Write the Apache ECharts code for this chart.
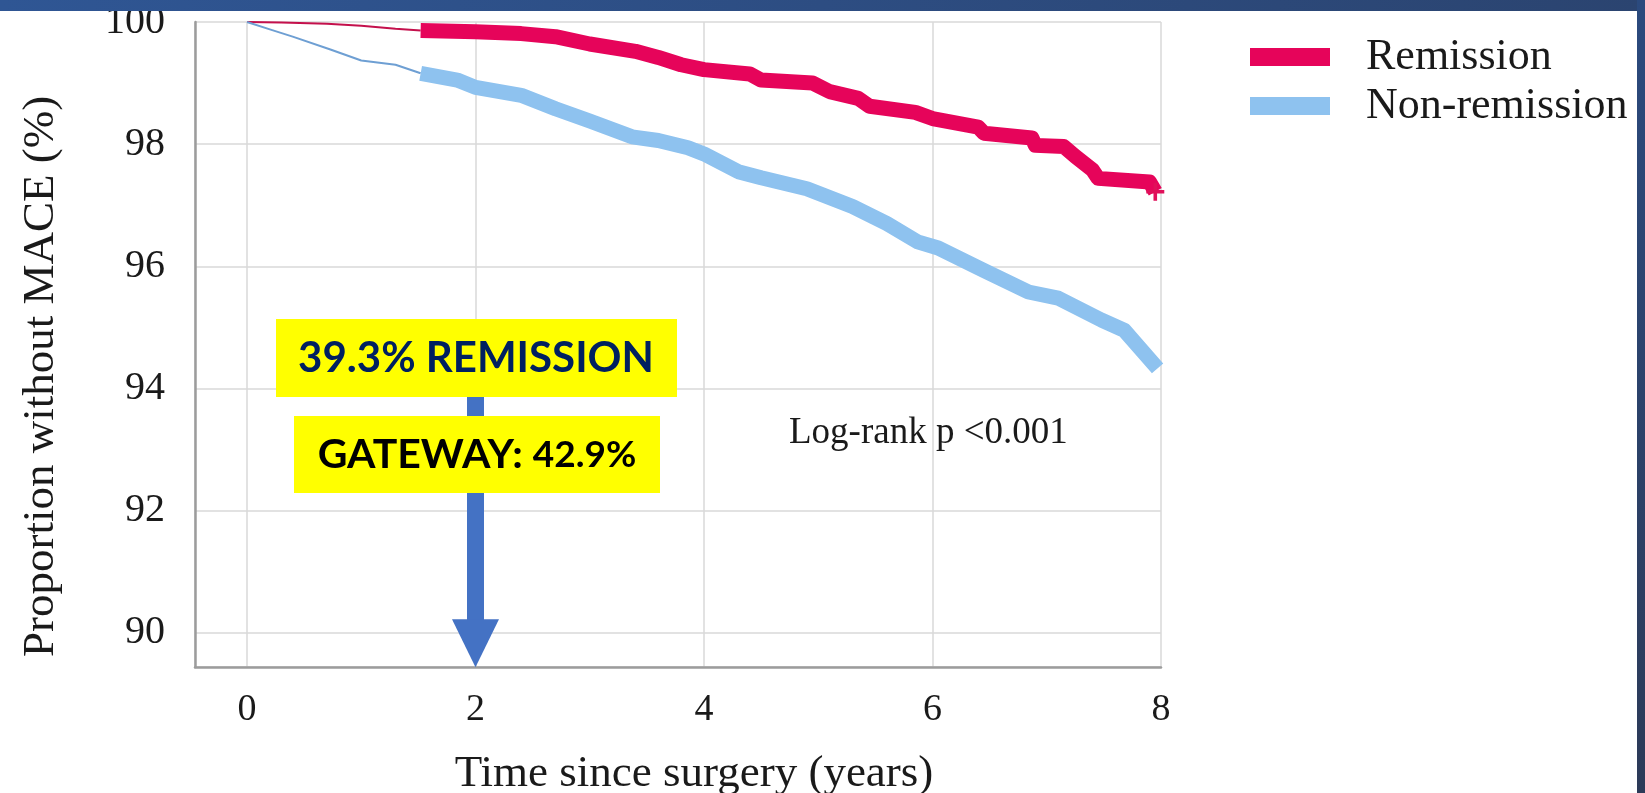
<!DOCTYPE html>
<html>
<head>
<meta charset="utf-8">
<script src="https://cdn.jsdelivr.net/npm/echarts@6/dist/echarts.min.js"></script>
<style>
  html, body { margin: 0; padding: 0; background: #fff; }
  #chart { width: 1645px; height: 793px; }
</style>
</head>
<body>
<div id="chart"></div>
<script>
// KM curves: [years since surgery, % without MACE]
const remission = [
  [0, 100], [0.3, 99.99], [0.7, 99.97], [1.0, 99.94], [1.3, 99.89], [1.52, 99.86],
  [2.0, 99.84], [2.4, 99.81], [2.7, 99.76], [3.0, 99.64], [3.4, 99.52], [3.6, 99.42],
  [3.8, 99.3], [4.0, 99.22], [4.4, 99.15], [4.5, 99.05], [4.95, 99.0], [5.1, 98.86],
  [5.35, 98.75], [5.45, 98.62], [5.85, 98.52], [6.0, 98.42], [6.4, 98.28], [6.45, 98.18],
  [6.87, 98.1], [6.9, 97.98], [7.15, 97.96], [7.25, 97.8], [7.4, 97.58], [7.45, 97.44],
  [7.9, 97.38], [7.95, 97.22]
];
const nonRemission = [
  [0, 100], [0.2, 99.88], [0.4, 99.76], [0.73, 99.55], [1.0, 99.37], [1.3, 99.3],
  [1.52, 99.16], [1.84, 99.05], [2.0, 98.93], [2.4, 98.8], [2.7, 98.58], [3.0, 98.38],
  [3.37, 98.12], [3.6, 98.06], [3.86, 97.94], [4.0, 97.84], [4.3, 97.55], [4.5, 97.45],
  [4.9, 97.27], [5.3, 96.98], [5.6, 96.7], [5.87, 96.4], [6.05, 96.3], [6.45, 95.93],
  [6.84, 95.58], [7.1, 95.48], [7.48, 95.12], [7.68, 94.95], [7.97, 94.33]
];
// after this year the censor marks merge into a thick band
const bandFrom = 1.52;

const names = ['Remission', 'Non-remission'];
const bandColors = ['#e6045a', '#8ec2ef'];
const thinColors = ['#c4104c', '#6e9fd3'];

const xRange = [-0.455, 8];
const yRange = [89.44, 100];

// the blue arrow pointing at year 2
const arrowYear = 2;
const arrowTop = 94.3;
const arrowHeadHalf = 0.39;

const serif = 'Liberation Serif';
const plusPath = 'path://M4,0h2v4h4v2h-4v4h-2v-4h-4v-2h4z';

const chart = echarts.init(document.getElementById('chart'));

function evenLabel(v) {
  return Math.abs(v - Math.round(v)) < 1e-6 && Math.round(v) % 2 === 0 ? String(Math.round(v)) : '';
}

const series = [];
[remission, nonRemission].forEach((curve, i) => {
  const thin = curve.filter(p => p[0] <= bandFrom);
  const band = curve.filter(p => p[0] >= bandFrom);
  series.push({
    name: names[i], type: 'line', data: thin,
    symbol: 'none', silent: true, z: 3,
    itemStyle: { color: bandColors[i] },
    lineStyle: { color: thinColors[i], width: 2 }
  });
  const bandData = band.slice();
  if (i === 0) {
    const last = bandData.pop();
    bandData.push({ value: last, symbol: plusPath, symbolSize: 18, itemStyle: { color: '#e0105a' } });
  }
  series.push({
    name: names[i], type: 'line', data: bandData,
    symbol: 'none', showSymbol: true, silent: true, z: 3,
    itemStyle: { color: bandColors[i] },
    lineStyle: { color: bandColors[i], width: 15, cap: 'butt', join: 'round' }
  });
});

series[0].markLine = {
  silent: true,
  symbol: ['none', 'triangle'],
  symbolSize: [47, 48],
  label: { show: false },
  lineStyle: { color: '#4472c4', width: 17, type: 'solid', opacity: 1 },
  emphasis: { disabled: true },
  data: [[{ coord: [arrowYear, arrowTop] }, { coord: [arrowYear, yRange[0] + arrowHeadHalf] }]]
};

const option = {
  animation: false,
  backgroundColor: '#fff',
  grid: { left: 195, top: 22, right: 484, bottom: 126, outerBoundsMode: 'none', containLabel: false },
  xAxis: {
    type: 'value', min: xRange[0], max: xRange[1], splitNumber: 4,
    name: 'Time since surgery (years)', nameLocation: 'middle', nameGap: 85,
    nameTextStyle: { fontFamily: serif, fontSize: 45, color: '#1a1a1a', padding: [0, 0, 0, 32] },
    axisLine: { show: true, onZero: false, lineStyle: { color: '#9c9c9c', width: 2.5 } },
    axisTick: { show: false },
    axisLabel: { formatter: evenLabel, fontFamily: serif, fontSize: 38, color: '#1a1a1a', margin: 24 },
    splitLine: { show: true, lineStyle: { color: '#d9d9d9', width: 1.5 } }
  },
  yAxis: {
    type: 'value', min: yRange[0], max: yRange[1], splitNumber: 5,
    name: 'Proportion without MACE (%)', nameLocation: 'middle', nameGap: 131,
    nameTextStyle: { fontFamily: serif, fontSize: 45, color: '#1a1a1a', padding: [0, 64, 0, 0] },
    axisLine: { show: true, onZero: false, lineStyle: { color: '#9c9c9c', width: 2.5 } },
    axisTick: { show: false },
    axisLabel: { formatter: evenLabel, fontFamily: serif, fontSize: 40, color: '#1a1a1a', margin: 30 },
    splitLine: { show: true, lineStyle: { color: '#d9d9d9', width: 1.5 } }
  },
  legend: {
    orient: 'vertical', left: 1245, top: 30,
    data: names.map(n => ({ name: n, icon: 'rect' })),
    itemWidth: 80, itemHeight: 18, itemGap: 5,
    selectedMode: false,
    textStyle: { fontFamily: serif, fontSize: 44, color: '#1a1a1a', padding: [0, 0, 0, 31] }
  },
  series: series,
  graphic: [
    {
      type: 'rect', z: 100, silent: true,
      shape: { x: 276, y: 319, width: 401, height: 78 },
      style: { fill: '#ffff00' }
    },
    {
      type: 'text', z: 101, silent: true,
      style: {
        x: 476, y: 358, text: '39.3% REMISSION', align: 'center', verticalAlign: 'middle',
        font: 'bold 42px Lato', fill: '#002060'
      }
    },
    {
      type: 'rect', z: 100, silent: true,
      shape: { x: 294, y: 416, width: 366, height: 77 },
      style: { fill: '#ffff00' }
    },
    {
      type: 'text', z: 101, silent: true,
      style: {
        x: 477, y: 455, text: '{a|GATEWAY: }{b|42.9%}', align: 'center', verticalAlign: 'middle',
        fill: '#000',
        rich: {
          a: { fontFamily: 'Lato', fontWeight: 'bold', fontSize: 41, fill: '#000', color: '#000' },
          b: { fontFamily: 'Lato', fontWeight: 'bold', fontSize: 37, fill: '#000', color: '#000' }
        }
      }
    },
    {
      type: 'text', z: 101, silent: true,
      style: {
        x: 789, y: 433, text: 'Log-rank p <0.001', verticalAlign: 'middle',
        font: '37px "Liberation Serif"', fill: '#1a1a1a'
      }
    },
    {
      type: 'rect', z: 200, silent: true,
      shape: { x: 0, y: 0, width: 1645, height: 11 },
      style: {
        fill: new echarts.graphic.LinearGradient(0, 0, 1, 0, [
          { offset: 0, color: '#2f5694' }, { offset: 1, color: '#2b4470' }
        ])
      }
    },
    {
      type: 'rect', z: 200, silent: true,
      shape: { x: 1637, y: 0, width: 8, height: 793 },
      style: {
        fill: new echarts.graphic.LinearGradient(0, 0, 0, 1, [
          { offset: 0, color: '#2b4a7e' }, { offset: 1, color: '#2c3a58' }
        ])
      }
    }
  ]
};

chart.setOption(option);
</script>
</body>
</html>
